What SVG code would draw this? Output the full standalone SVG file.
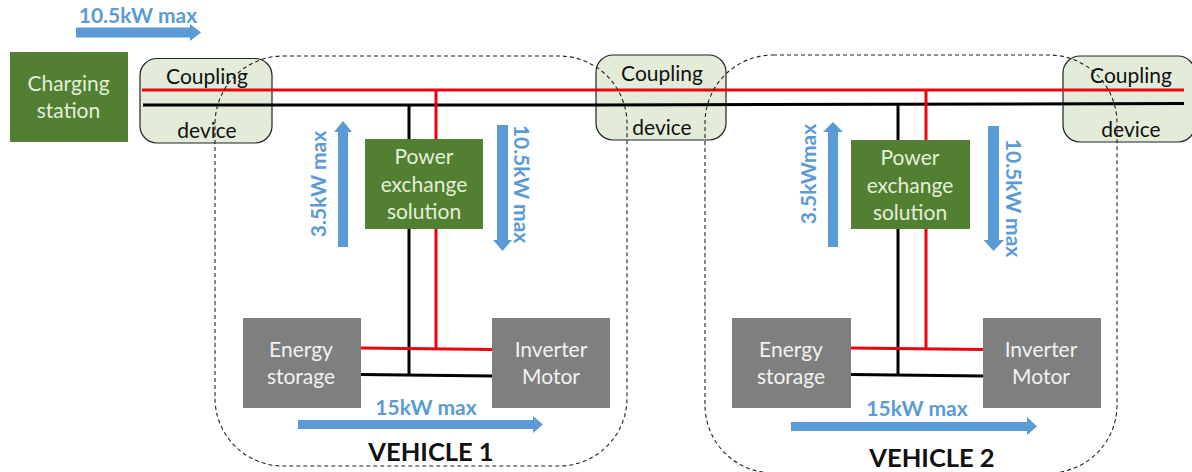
<svg xmlns="http://www.w3.org/2000/svg" width="1192" height="472" viewBox="0 0 1192 472">
<style>
text{font-family:Lato,"Liberation Sans",sans-serif;text-anchor:middle}
.n{font-size:21px}
.lt{fill:#e2f0d9}
.wh{fill:#f2f2f2}
.bk{fill:#111}
.bl{fill:#5b9bd5;font-weight:700;font-size:21px}
.veh{fill:#111;font-weight:700;font-size:25.500px}
.green{fill:#527f32}
.gray{fill:#7f7f7f}
.cp{fill:#e2ecd9;stroke:#222;stroke-width:1.2}
.r{stroke:#e8050f;stroke-width:3;fill:none}
.b{stroke:#000;stroke-width:3;fill:none}
.ar{fill:#5b9bd5}
.dash{fill:none;stroke:#222;stroke-width:1.1;stroke-dasharray:4 3}
</style>
<rect width="1192" height="472" fill="#fff"/>
<g id="charging-station"><rect class="green" x="10" y="52" width="118" height="90"/><text class="n lt" x="68.500" y="91">Charging</text><text class="n lt" x="68.500" y="118">station</text></g>
<g id="coupling-1"><rect class="cp" x="140" y="58.500" width="132" height="84.500" rx="17"/><text class="n bk" x="207" y="84">Coupling</text><text class="n bk" x="207" y="138">device</text></g>
<g id="coupling-2"><rect class="cp" x="596" y="55" width="130" height="85" rx="17"/><text class="n bk" x="662" y="81">Coupling</text><text class="n bk" x="662" y="135">device</text></g>
<g id="coupling-3"><rect class="cp" x="1063" y="56" width="132" height="86" rx="17"/><text class="n bk" x="1131" y="83">Coupling</text><text class="n bk" x="1131" y="137">device</text></g>
<g id="connectors">
<path class="r" d="M142 90H1184"/>
<path class="b" d="M143 105H600L1184 103.500"/>
<path class="b" d="M409 105V375"/>
<path class="r" d="M436 90V348.500"/>
<path class="r" d="M361 348L492 349.500"/>
<path class="b" d="M361 374.500L492 376"/>
<path class="b" d="M898 104V375"/>
<path class="r" d="M926 90V348.500"/>
<path class="r" d="M851 348L983 349.500"/>
<path class="b" d="M851 374.500L983 376"/>
</g>
<g id="power-exchange-1"><rect class="green" x="365" y="139" width="118" height="90"/><text class="n lt" x="424" y="164">Power</text><text class="n lt" x="424" y="192">exchange</text><text class="n lt" x="424" y="219">solution</text></g>
<g id="power-exchange-2"><rect class="green" x="851" y="140" width="119" height="89"/><text class="n lt" x="910" y="165">Power</text><text class="n lt" x="910" y="193">exchange</text><text class="n lt" x="910" y="220">solution</text></g>
<g id="energy-storage-1"><rect class="gray" x="243" y="318" width="118" height="90"/><text class="n wh" x="301" y="357">Energy</text><text class="n wh" x="301" y="384">storage</text></g>
<g id="inverter-motor-1"><rect class="gray" x="492" y="318" width="118" height="90"/><text class="n wh" x="551" y="357">Inverter</text><text class="n wh" x="551" y="384">Motor</text></g>
<g id="energy-storage-2"><rect class="gray" x="732" y="318" width="119" height="90"/><text class="n wh" x="791" y="357">Energy</text><text class="n wh" x="791" y="384">storage</text></g>
<g id="inverter-motor-2"><rect class="gray" x="983" y="318" width="118" height="90"/><text class="n wh" x="1041" y="357">Inverter</text><text class="n wh" x="1041" y="384">Motor</text></g>
<g id="vehicle-1"><rect class="dash" x="215" y="56" width="412" height="410" rx="68"/><text class="veh" x="431" y="461">VEHICLE 1</text></g>
<g id="vehicle-2"><rect class="dash" x="705" y="55" width="412" height="418" rx="68"/><text class="veh" x="932" y="467">VEHICLE 2</text></g>
<g id="flow-labels">
<path class="ar" d="M76 27.500H190V24L201 32.500L190 41V37.500H76Z"/>
<text class="bl" x="138" y="23">10.5kW max</text>
<path class="ar" d="M338 247V132H334L343 121L352 132H348V247Z"/>
<text class="bl" transform="translate(326 184) rotate(-90)">3.5kW max</text>
<path class="ar" d="M497 125V240H493L502.500 251L512 240H508V125Z"/>
<text class="bl" transform="translate(514 184) rotate(90)">10.5kW max</text>
<path class="ar" d="M298 420H533V416L543 424.500L533 433V429H298Z"/>
<text class="bl" x="426" y="415">15kW max</text>
<path class="ar" d="M828 247V132H823L833 122L843 132H838V247Z"/>
<text class="bl" transform="translate(816 174) rotate(-90)">3.5kWmax</text>
<path class="ar" d="M988 126V240H983.500L993.500 251L1004 240H999V126Z"/>
<text class="bl" transform="translate(1006 198) rotate(90)">10.5kW max</text>
<path class="ar" d="M791 422H1027V417L1037 426.500L1027 435V431H791Z"/>
<text class="bl" x="917" y="416">15kW max</text>
</g>
</svg>
